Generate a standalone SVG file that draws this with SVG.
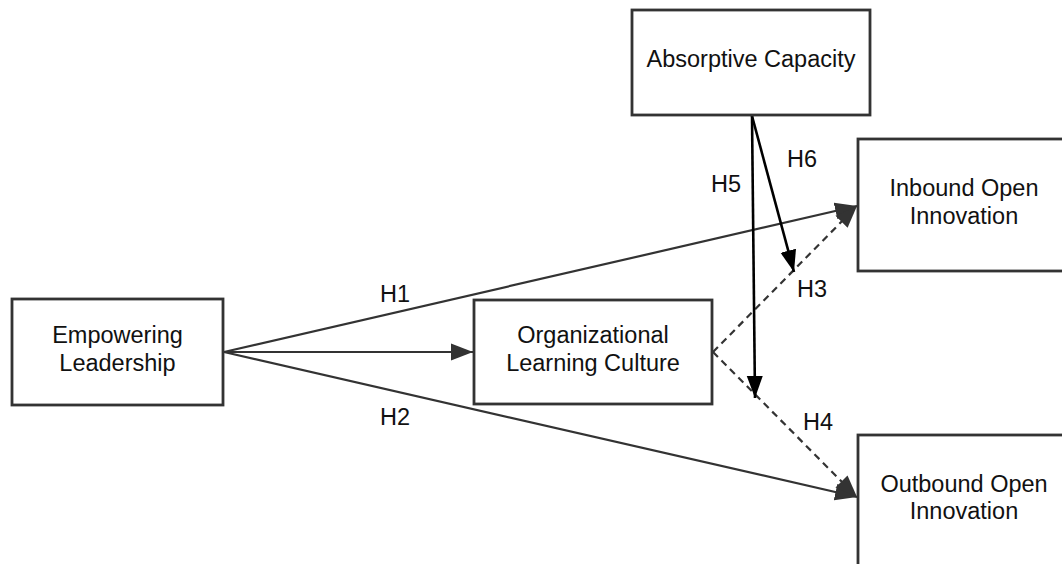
<svg xmlns="http://www.w3.org/2000/svg" width="1062" height="564" viewBox="0 0 1062 564">
<style>
.box{fill:#fff;stroke:#333;stroke-width:2.8}
.t{font-family:"Liberation Sans",Arial,sans-serif;font-size:23.5px;fill:#111;text-anchor:middle}
.c{fill:none;stroke:#333;stroke-width:2.2}
.d{fill:none;stroke:#333;stroke-width:2.2;stroke-dasharray:7 5}
.k{fill:none;stroke:#000;stroke-width:2.6}
</style>
<defs>
<marker id="ag" markerUnits="userSpaceOnUse" markerWidth="23" markerHeight="19" viewBox="0 0 23 19" refX="22" refY="9.5" orient="auto">
<path d="M0,1 L22,9.5 L0,18 z" fill="#333"/>
</marker>
<marker id="ak" markerUnits="userSpaceOnUse" markerWidth="23" markerHeight="19" viewBox="0 0 23 19" refX="22" refY="9.5" orient="auto">
<path d="M0,1.5 L22,9.5 L0,17.5 z" fill="#000"/>
</marker>
</defs>
<rect width="1062" height="564" fill="#fff"/>
<g id="connectors">
<line class="c" x1="224" y1="352" x2="857" y2="206" marker-end="url(#ag)"/>
<line class="c" x1="224" y1="352" x2="473" y2="352" marker-end="url(#ag)"/>
<line class="c" x1="224" y1="352" x2="857" y2="497" marker-end="url(#ag)"/>
<line class="d" x1="713" y1="352" x2="857" y2="206" marker-end="url(#ag)"/>
<line class="d" x1="713" y1="352" x2="857" y2="497" marker-end="url(#ag)"/>
<line class="k" x1="752" y1="116" x2="755" y2="398" marker-end="url(#ak)"/>
<line class="k" x1="752" y1="116" x2="794" y2="272" marker-end="url(#ak)"/>
<text class="t" x="395" y="302">H1</text>
<text class="t" x="395" y="425">H2</text>
<text class="t" x="812" y="297">H3</text>
<text class="t" x="818" y="430">H4</text>
<text class="t" x="726" y="192">H5</text>
<text class="t" x="802" y="167">H6</text>
</g>
<g id="empowering">
<rect class="box" x="12" y="299" width="211" height="106"/>
<text class="t" x="117.5" y="343">Empowering</text>
<text class="t" x="117.5" y="371">Leadership</text>
</g>
<g id="olc">
<rect class="box" x="474" y="300" width="238" height="104"/>
<text class="t" x="593" y="343">Organizational</text>
<text class="t" x="593" y="371">Learning Culture</text>
</g>
<g id="absorptive">
<rect class="box" x="632" y="10" width="238" height="105"/>
<text class="t" x="751" y="67">Absorptive Capacity</text>
</g>
<g id="inbound">
<rect class="box" x="858" y="139" width="212" height="132"/>
<text class="t" x="964" y="196">Inbound Open</text>
<text class="t" x="964" y="224">Innovation</text>
</g>
<g id="outbound">
<rect class="box" x="858" y="435" width="212" height="140"/>
<text class="t" x="964" y="492">Outbound Open</text>
<text class="t" x="964" y="519">Innovation</text>
</g>
</svg>
